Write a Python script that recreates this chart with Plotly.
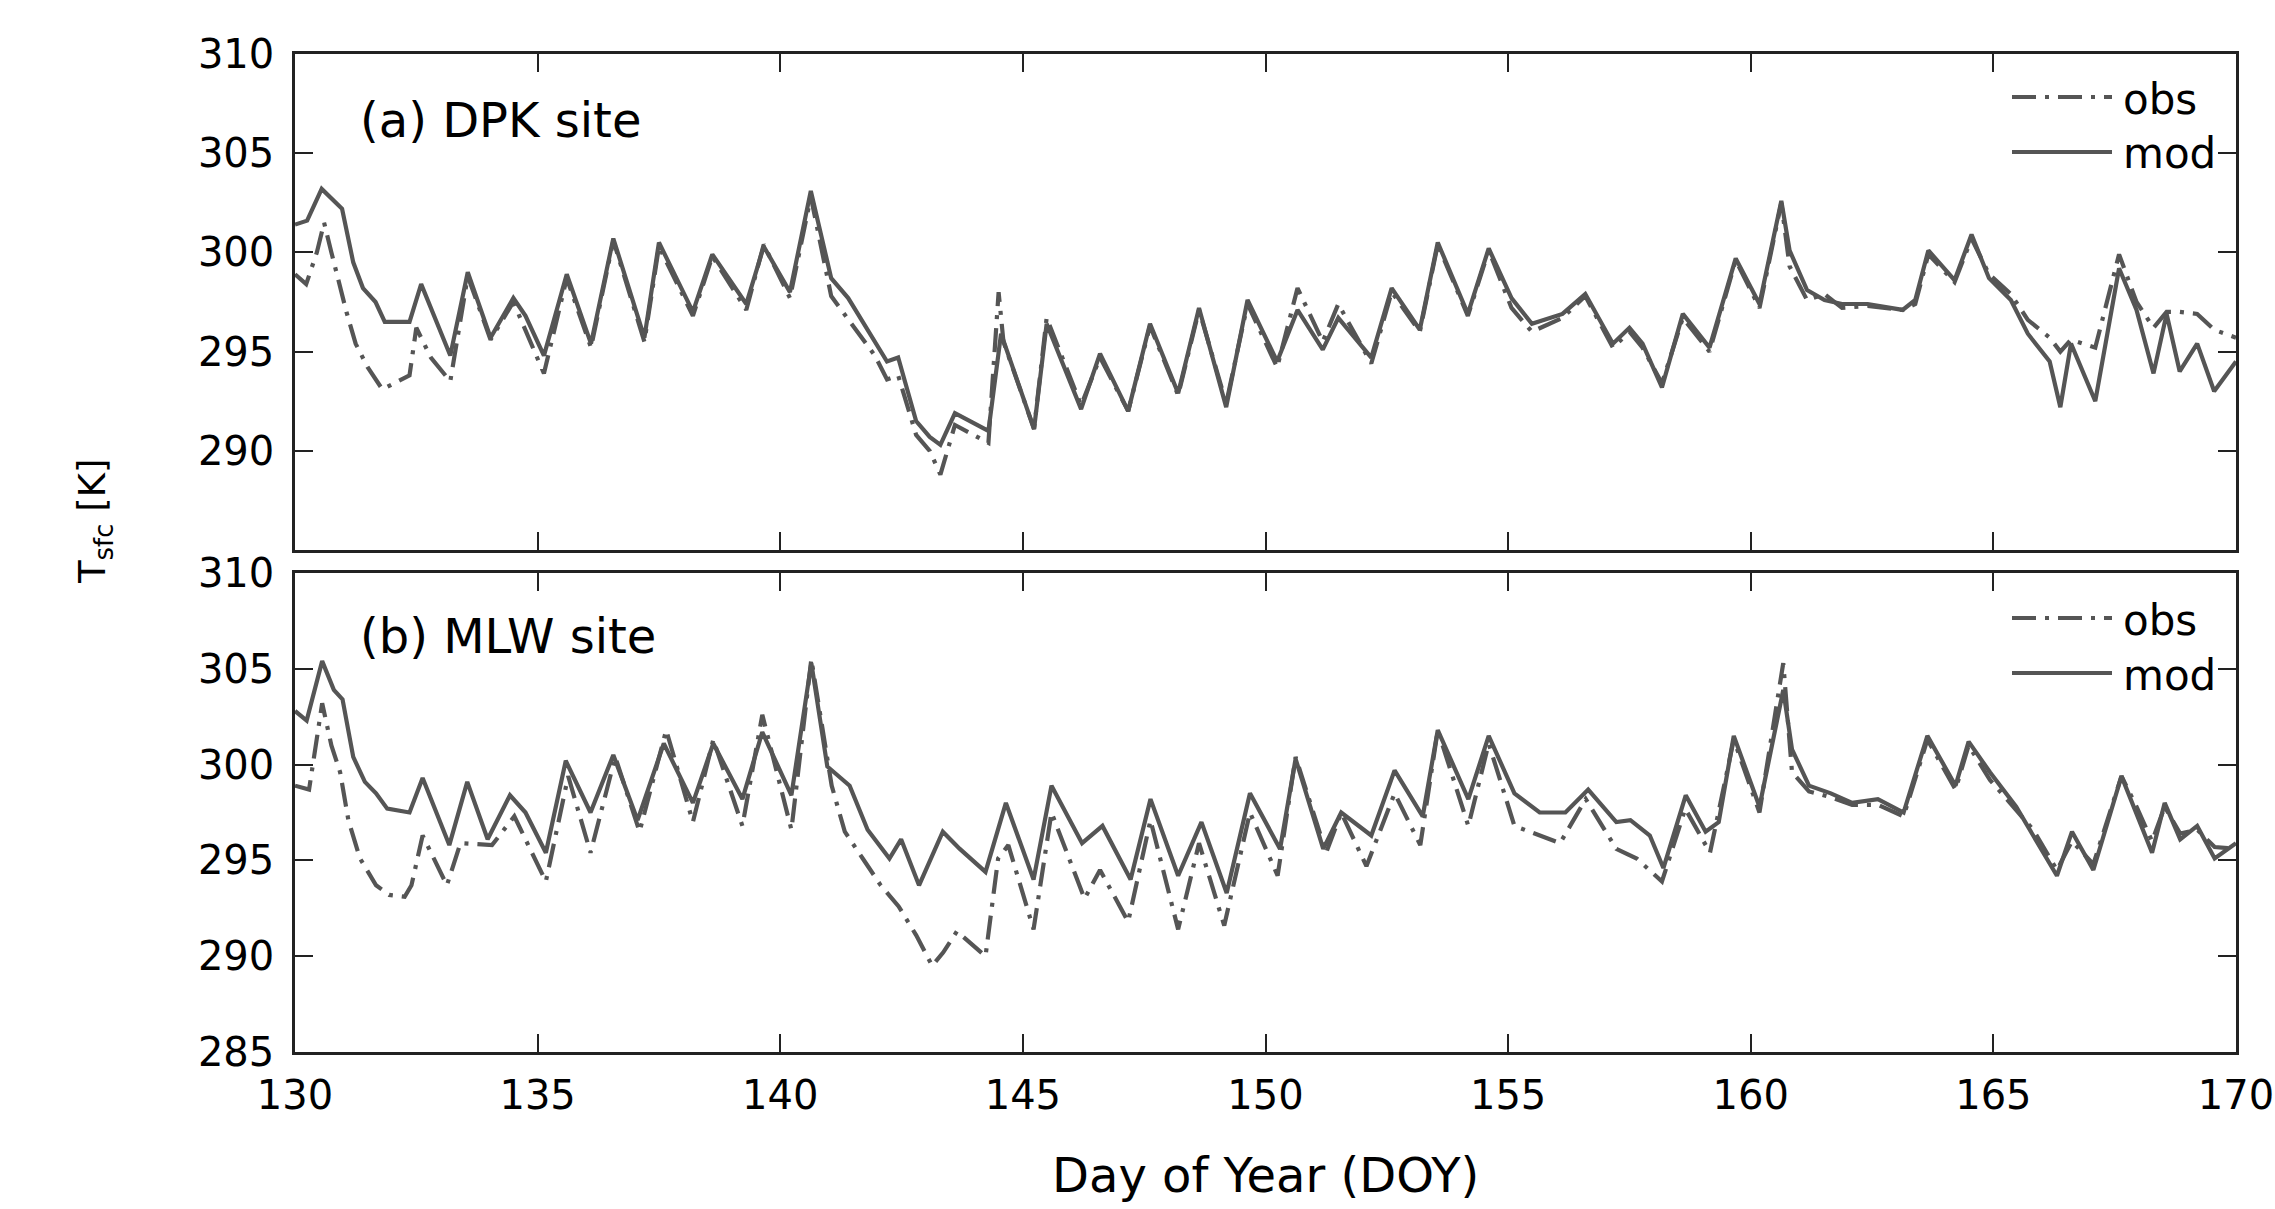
import plotly.graph_objects as go

# ---------------- data ----------------
# (a) DPK site
dpk_mod_doy = [130.0, 130.25, 130.55, 130.97, 131.2, 131.4, 131.66, 131.85, 132.36, 132.6,
               133.2, 133.56, 134.03, 134.5, 134.75, 135.13, 135.6, 136.1, 136.56, 137.2,
               137.5, 138.2, 138.6, 139.3, 139.66, 140.2, 140.63, 141.05, 141.4, 141.95,
               142.2, 142.43, 142.8, 143.08, 143.3, 143.6, 144.29, 144.55, 145.23, 145.49,
               146.2, 146.59, 147.17, 147.62, 148.2, 148.63, 149.19, 149.63, 150.24, 150.66,
               151.18, 151.5, 152.18, 152.6, 153.18, 153.55, 154.17, 154.6, 155.07, 155.49,
               156.12, 156.59, 157.16, 157.5, 157.77, 158.17, 158.6, 159.15, 159.69, 160.18,
               160.63, 160.8, 161.16, 161.52, 161.88, 162.41, 163.13, 163.39, 163.66, 164.2,
               164.55, 164.91, 165.36, 165.71, 166.16, 166.38, 166.6, 167.1, 167.59, 167.95,
               168.3, 168.57, 168.84, 169.2, 169.55, 170.0]
dpk_mod_t = [301.4, 301.6, 303.2, 302.2, 299.5, 298.2, 297.5, 296.5, 296.5, 298.4,
             294.8, 299.0, 295.7, 297.7, 296.8, 294.8, 298.9, 295.4, 300.7, 295.7,
             300.5, 297.0, 299.9, 297.4, 300.3, 298.0, 303.1, 298.7, 297.7, 295.5,
             294.5, 294.7, 291.5, 290.7, 290.3, 291.9, 291.0, 295.9, 291.1, 296.4,
             292.1, 294.9, 292.0, 296.4, 292.9, 297.2, 292.2, 297.6, 294.5, 297.1,
             295.1, 296.7, 294.7, 298.2, 296.1, 300.5, 296.9, 300.2, 297.7, 296.4,
             296.9, 297.9, 295.4, 296.2, 295.4, 293.2, 296.9, 295.2, 299.7, 297.4,
             302.6, 300.1, 298.1, 297.6, 297.4, 297.4, 297.1, 297.6, 300.1, 298.6,
             300.9, 298.7, 297.6, 295.9, 294.5, 292.2, 295.4, 292.5, 299.2, 297.1,
             293.9, 296.9, 294.0, 295.4, 293.0, 294.5]

dpk_obs_doy = [130.0, 130.23, 130.45, 130.6, 130.75, 131.06, 131.25, 131.5, 131.8, 132.1,
               132.36, 132.5, 132.8, 133.2, 133.56, 134.03, 134.5, 135.13, 135.6, 136.1,
               136.56, 137.2, 137.5, 138.2, 138.6, 139.3, 139.66, 140.2, 140.63, 141.05,
               141.4, 141.95, 142.2, 142.43, 142.8, 143.08, 143.3, 143.6, 144.29, 144.5,
               144.6, 145.23, 145.49, 146.2, 146.59, 147.17, 147.62, 148.2, 148.63, 149.19,
               149.63, 150.24, 150.66, 151.18, 151.5, 152.18, 152.6, 153.18, 153.55, 154.17,
               154.6, 155.07, 155.49, 156.12, 156.59, 157.16, 157.5, 157.77, 158.17, 158.6,
               159.15, 159.69, 160.18, 160.63, 160.8, 161.16, 161.52, 161.88, 162.41, 163.13,
               163.39, 163.66, 164.2, 164.55, 164.91, 165.36, 165.71, 166.16, 166.38, 166.6,
               167.1, 167.59, 167.95, 168.3, 168.57, 168.84, 169.2, 169.55, 170.0]
dpk_obs_t = [298.9, 298.4, 300.0, 301.5, 300.0, 297.0, 295.4, 294.2, 293.1, 293.5,
             293.8, 296.2, 294.7, 293.5, 298.8, 295.6, 297.5, 293.9, 298.7, 295.2,
             300.6, 295.5, 300.3, 296.8, 299.8, 297.1, 300.4, 297.7, 302.8, 297.8,
             296.6, 294.8, 293.6, 293.8, 290.8, 290.0, 288.8, 291.3, 290.4, 298.0,
             295.5, 291.1, 296.7, 292.3, 294.7, 292.0, 296.3, 292.8, 297.1, 292.4,
             297.4, 294.2, 298.2, 295.5, 297.4, 294.4, 298.0, 296.0, 300.4, 296.8,
             300.1, 297.2, 296.0, 296.7, 297.8, 295.2, 296.0, 295.2, 293.4, 296.7,
             295.0, 299.6, 297.2, 302.5, 299.3, 297.6, 297.9, 297.2, 297.3, 297.1,
             297.4, 299.9, 298.5, 300.7, 298.9, 297.9, 296.6, 295.7, 295.0, 295.6,
             295.2, 299.9, 297.5, 296.2, 297.0, 297.0, 296.9, 296.1, 295.7]

# (b) MLW site
mlw_mod_doy = [130.0, 130.24, 130.56, 130.8, 130.98, 131.2, 131.44, 131.67, 131.9, 132.36,
               132.63, 133.18, 133.55, 133.97, 134.43, 134.75, 135.17, 135.58, 136.09, 136.56,
               137.06, 137.6, 138.2, 138.62, 139.22, 139.63, 140.23, 140.64, 140.97, 141.43,
               141.8, 142.25, 142.49, 142.86, 143.35, 143.7, 144.23, 144.65, 145.22, 145.59,
               146.22, 146.64, 147.22, 147.63, 148.2, 148.68, 149.2, 149.68, 150.3, 150.62,
               151.19, 151.56, 152.18, 152.66, 153.24, 153.55, 154.18, 154.6, 155.13, 155.65,
               156.18, 156.65, 157.23, 157.52, 157.92, 158.2, 158.66, 159.07, 159.34, 159.65,
               160.18, 160.67, 160.85, 161.2, 161.65, 162.09, 162.62, 163.15, 163.64, 164.22,
               164.49, 164.93, 165.47, 165.82, 166.31, 166.62, 167.06, 167.64, 167.95, 168.27,
               168.53, 168.85, 169.2, 169.56, 170.0]
mlw_mod_t = [302.8, 302.3, 305.4, 303.9, 303.4, 300.4, 299.1, 298.5, 297.7, 297.5,
             299.3, 295.8, 299.1, 296.1, 298.4, 297.5, 295.4, 300.2, 297.5, 300.5,
             297.1, 301.1, 298.0, 301.1, 298.2, 301.7, 298.4, 305.3, 299.9, 298.9,
             296.6, 295.1, 296.1, 293.7, 296.5, 295.6, 294.4, 298.0, 294.0, 298.9,
             295.9, 296.8, 294.0, 298.2, 294.2, 297.0, 293.3, 298.5, 295.6, 300.3,
             295.6, 297.5, 296.3, 299.7, 297.3, 301.8, 298.2, 301.5, 298.5, 297.5,
             297.5, 298.7, 297.0, 297.1, 296.3, 294.6, 298.4, 296.5, 297.0, 301.5,
             297.8, 303.9, 300.8, 298.9, 298.5, 298.0, 298.2, 297.5, 301.5, 298.9,
             301.2, 299.6, 297.8, 296.3, 294.2, 296.5, 294.5, 299.4, 297.5, 295.4,
             298.0, 296.1, 296.8, 295.1, 295.9]

mlw_obs_doy = [130.0, 130.29, 130.56, 130.75, 130.93, 131.1, 131.34, 131.67, 131.94, 132.26,
               132.4, 132.63, 133.13, 133.41, 134.06, 134.52, 135.17, 135.63, 136.09, 136.6,
               137.1, 137.65, 138.2, 138.62, 139.22, 139.63, 140.23, 140.64, 141.06, 141.33,
               141.7, 142.07, 142.44, 142.8, 143.13, 143.36, 143.64, 144.23, 144.49, 144.7,
               145.22, 145.59, 146.27, 146.59, 147.17, 147.63, 148.2, 148.63, 149.15, 149.68,
               150.25, 150.62, 151.25, 151.56, 152.08, 152.66, 153.19, 153.55, 154.18, 154.6,
               155.13, 155.65, 156.07, 156.6, 157.23, 157.65, 158.17, 158.65, 159.16, 159.65,
               160.18, 160.67, 160.85, 161.2, 161.65, 162.09, 162.62, 163.15, 163.64, 164.22,
               164.49, 164.93, 165.47, 165.82, 166.31, 166.62, 167.06, 167.64, 167.95, 168.27,
               168.53, 168.85, 169.2, 169.56, 170.0]
mlw_obs_t = [298.9, 298.7, 303.2, 301.0, 299.6, 297.1, 295.1, 293.7, 293.2, 293.1,
             293.7, 296.3, 293.7, 295.9, 295.8, 297.3, 293.9, 299.4, 295.4, 300.4,
             296.5, 301.8, 297.0, 301.3, 296.8, 302.6, 296.6, 305.5, 298.9, 296.5,
             295.1, 293.7, 292.6, 291.1, 289.5, 290.2, 291.3, 290.0, 295.1, 295.8,
             291.4, 297.5, 293.0, 294.5, 291.8, 297.1, 291.4, 295.9, 291.6, 297.5,
             294.2, 300.4, 295.4, 297.5, 294.7, 298.5, 295.8, 301.8, 296.8, 301.1,
             296.8, 296.3, 295.9, 298.2, 295.6, 295.1, 293.9, 297.7, 295.4, 301.3,
             297.5, 305.3, 299.6, 298.6, 298.3, 297.9, 297.9, 297.3, 301.3, 298.7,
             301.0, 299.2, 297.6, 296.6, 294.5, 296.0, 294.8, 299.4, 297.8, 296.0,
             297.8, 296.4, 296.6, 295.7, 295.6]

x_ticks = [130, 135, 140, 145, 150, 155, 160, 165, 170]
y_ticks_a = [290, 295, 300, 305, 310]
y_ticks_b = [285, 290, 295, 300, 305, 310]
legend_names = ["obs", "mod"]
panel_titles = ["(a) DPK site", "(b) MLW site"]

# ---------------- styling ----------------
W, H = 2275, 1209
FONT = "DejaVu Sans"
LINE_COL = "#555555"
AX_COL = "#222222"
OBS_DASH = "24px,9px,4px,9px"
LW = 4.2

def px(x):
    return x / W

def py(y):
    return 1 - y / H

fig = go.Figure()

series = [
    (dpk_obs_doy, dpk_obs_t, "x", "y", OBS_DASH, legend_names[0]),
    (dpk_mod_doy, dpk_mod_t, "x", "y", "solid", legend_names[1]),
    (mlw_obs_doy, mlw_obs_t, "x2", "y2", OBS_DASH, legend_names[0]),
    (mlw_mod_doy, mlw_mod_t, "x2", "y2", "solid", legend_names[1]),
]
for xs, ys, xa, ya, dash, name in series:
    fig.add_trace(go.Scatter(x=xs, y=ys, xaxis=xa, yaxis=ya, mode="lines", name=name,
                             line=dict(color=LINE_COL, width=LW, dash=dash),
                             showlegend=False))

x_dom = [px(295), px(2236)]
axis_common = dict(showline=True, linecolor=AX_COL, linewidth=2.5, mirror="ticks",
                   ticks="inside", ticklen=18, tickwidth=2, tickcolor=AX_COL,
                   showgrid=False, zeroline=False, automargin=False,
                   tickfont=dict(family=FONT, size=40, color="black"))

fig.update_layout(
    width=W, height=H, autosize=False,
    margin=dict(l=0, r=0, t=0, b=0, autoexpand=False),
    plot_bgcolor="white", paper_bgcolor="white",
    showlegend=False,
    xaxis=dict(domain=x_dom, range=[130, 170], tickvals=x_ticks, showticklabels=False,
               anchor="y", **axis_common),
    yaxis=dict(domain=[py(550), py(54)], range=[285, 310], tickvals=y_ticks_a,
               anchor="x", ticklabelstandoff=10, **axis_common),
    xaxis2=dict(domain=x_dom, range=[130, 170], tickvals=x_ticks, anchor="y2",
                ticklabelstandoff=6, ticklabeloverflow="allow", **axis_common),
    yaxis2=dict(domain=[py(1052), py(573)], range=[285, 310], tickvals=y_ticks_b,
                anchor="x2", ticklabelstandoff=10, **axis_common),
)

annotations = []
# panel labels
for title, yc in zip(panel_titles, [120, 636]):
    annotations.append(dict(x=px(358), y=py(yc), xref="paper", yref="paper", text=title,
                            showarrow=False, xanchor="left", yanchor="middle",
                            font=dict(family=FONT, size=48, color="black")))
# axis titles
annotations.append(dict(x=px(1265), y=py(1175), xref="paper", yref="paper",
                        text="Day of Year (DOY)", showarrow=False,
                        xanchor="center", yanchor="middle",
                        font=dict(family=FONT, size=48, color="black")))
annotations.append(dict(x=px(95), y=py(522), xref="paper", yref="paper",
                        text="T<sub>sfc</sub> [K]", showarrow=False, textangle=-90,
                        xanchor="center", yanchor="middle",
                        font=dict(family=FONT, size=37, color="black")))

# manual legends (long line samples, as in the reference)
shapes = []
legend_rows = [(97, 152), (618, 673)]
for y_obs, y_mod in legend_rows:
    for yy, dash, name in [(y_obs, OBS_DASH, legend_names[0]), (y_mod, "solid", legend_names[1])]:
        shapes.append(dict(type="line", xref="paper", yref="paper",
                           x0=px(2012), x1=px(2112), y0=py(yy), y1=py(yy),
                           line=dict(color=LINE_COL, width=LW, dash=dash)))
        annotations.append(dict(x=px(2121), y=py(yy + 2), xref="paper", yref="paper",
                                text=name, showarrow=False, xanchor="left", yanchor="middle",
                                font=dict(family=FONT, size=42, color="black")))

fig.update_layout(annotations=annotations, shapes=shapes)

fig.write_html("out.html")
